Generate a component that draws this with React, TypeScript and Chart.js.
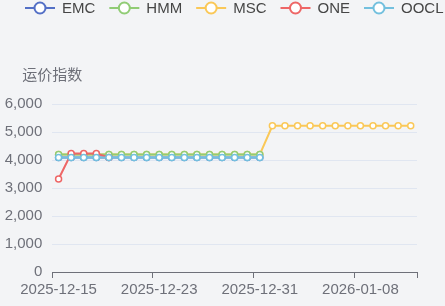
import React, { useEffect, useRef } from "react";
import { Chart, registerables } from "chart.js";

Chart.register(...registerables);

const dates: string[] = [
  "2025-12-15", "2025-12-16", "2025-12-17", "2025-12-18", "2025-12-19", "2025-12-20",
  "2025-12-21", "2025-12-22", "2025-12-23", "2025-12-24", "2025-12-25", "2025-12-26",
  "2025-12-27", "2025-12-28", "2025-12-29", "2025-12-30", "2025-12-31", "2026-01-01",
  "2026-01-02", "2026-01-03", "2026-01-04", "2026-01-05", "2026-01-06", "2026-01-07",
  "2026-01-08", "2026-01-09", "2026-01-10", "2026-01-11", "2026-01-12",
];

const seriesNames = ["EMC", "HMM", "MSC", "ONE", "OOCL"];
const seriesColors = ["#5470c6", "#91cc75", "#fac858", "#ee6666", "#73c0de"];
// drawing order: lower = on top
const seriesOrder = [4, 2, 3, 1, 0];

const N = null;
const emcValues = [4090, 4090, 4090, 4090, 4090, 4090, 4090, 4090, 4090, 4090, 4090, 4090, 4090, 4090, 4090, 4090, 4090, N, N, N, N, N, N, N, N, N, N, N, N];
const hmmValues = [4200, 4200, 4200, 4200, 4200, 4200, 4200, 4200, 4200, 4200, 4200, 4200, 4200, 4200, 4200, 4200, 4200, N, N, N, N, N, N, N, N, N, N, N, N];
const mscValues = [4200, 4200, 4200, 4200, 4200, 4200, 4200, 4200, 4200, 4200, 4200, 4200, 4200, 4200, 4200, 4200, 4200, 5220, 5220, 5220, 5220, 5220, 5220, 5220, 5220, 5220, 5220, 5220, 5220];
const oneValues = [3320, 4230, 4230, 4230, 4090, N, N, N, N, N, N, N, N, N, N, N, N, N, N, N, N, N, N, N, N, N, N, N, N];
const ooclValues = [4090, 4090, 4090, 4090, 4090, 4090, 4090, 4090, 4090, 4090, 4090, 4090, 4090, 4090, 4090, 4090, 4090, N, N, N, N, N, N, N, N, N, N, N, N];

const seriesValues = [emcValues, hmmValues, mscValues, oneValues, ooclValues];

const yTitle = "运价指数";
const labelEvery = 8;

const FONT = '"Liberation Sans", Arial, "Noto Sans CJK SC", sans-serif';
const BG = "#f3f4f6";

const overlayPlugin = {
  id: "overlay",
  afterDraw(chart: any) {
    const ctx = chart.ctx as CanvasRenderingContext2D;
    ctx.save();
    // legend
    ctx.font = `15px ${FONT}`;
    ctx.textBaseline = "middle";
    ctx.textAlign = "left";
    let x = 25;
    const y = 8;
    seriesNames.forEach((name, i) => {
      const c = seriesColors[i];
      ctx.strokeStyle = c;
      ctx.lineWidth = 2;
      ctx.beginPath();
      ctx.moveTo(x, y);
      ctx.lineTo(x + 30, y);
      ctx.stroke();
      ctx.beginPath();
      ctx.arc(x + 15, y, 5.5, 0, Math.PI * 2);
      ctx.fillStyle = "#ffffff";
      ctx.fill();
      ctx.stroke();
      ctx.fillStyle = "#464646";
      ctx.fillText(name, x + 37, y + 0.5);
      x = x + 37 + ctx.measureText(name).width + 14;
    });
    // y axis title
    ctx.font = `15px ${FONT}`;
    ctx.fillStyle = "#6e7079";
    ctx.textAlign = "center";
    ctx.fillText(yTitle, chart.chartArea.left, 76);
    ctx.restore();
  },
};

export default function App() {
  const canvasRef = useRef<HTMLCanvasElement | null>(null);

  useEffect(() => {
    document.body.style.margin = "0";
    document.body.style.background = BG;
    const canvas = canvasRef.current;
    if (!canvas) return;
    const chart = new Chart(canvas, {
      type: "line",
      data: {
        labels: dates,
        datasets: seriesNames.map((name, i) => ({
          label: name,
          data: seriesValues[i],
          borderColor: seriesColors[i],
          backgroundColor: "#ffffff",
          pointBackgroundColor: "#ffffff",
          pointBorderColor: seriesColors[i],
          pointRadius: 3,
          pointBorderWidth: 1.5,
          borderWidth: 2,
          tension: 0,
          spanGaps: false,
          order: seriesOrder[i],
        })),
      },
      options: {
        animation: false,
        responsive: true,
        maintainAspectRatio: false,
        layout: { padding: { top: 104, left: 5, right: 28, bottom: 4 } },
        plugins: {
          legend: { display: false },
          tooltip: { enabled: false },
        },
        scales: {
          x: {
            type: "category",
            offset: true,
            grid: {
              offset: true,
              drawOnChartArea: false,
              drawTicks: true,
              tickLength: 6,
              tickColor: (ctx: any) =>
                ctx.index === undefined || ctx.index % labelEvery === 0 ? "#6e7079" : "rgba(0,0,0,0)",
              tickWidth: 1,
            },
            border: { display: true, color: "#6e7079", width: 1 },
            ticks: {
              autoSkip: false,
              maxRotation: 0,
              minRotation: 0,
              padding: 3,
              color: "#6e7079",
              font: { size: 15, family: FONT },
              callback: (_v: any, idx: number) => (idx % labelEvery === 0 ? dates[idx] : ""),
            },
          },
          y: {
            min: 0,
            max: 6000,
            grid: { color: "#e0e6f1", drawTicks: false, lineWidth: 1 },
            border: { display: false },
            afterFit: (scale: any) => {
              scale.width = 47.3;
            },
            ticks: {
              stepSize: 1000,
              padding: 10,
              color: "#6e7079",
              font: { size: 15, family: FONT },
              callback: (v: any) => Number(v).toLocaleString("en-US"),
            },
          },
        },
      },
      plugins: [overlayPlugin],
    });
    return () => chart.destroy();
  }, []);

  return (
    <div style={{ width: 445, height: 306, position: "relative", background: BG }}>
      <canvas ref={canvasRef} />
    </div>
  );
}
